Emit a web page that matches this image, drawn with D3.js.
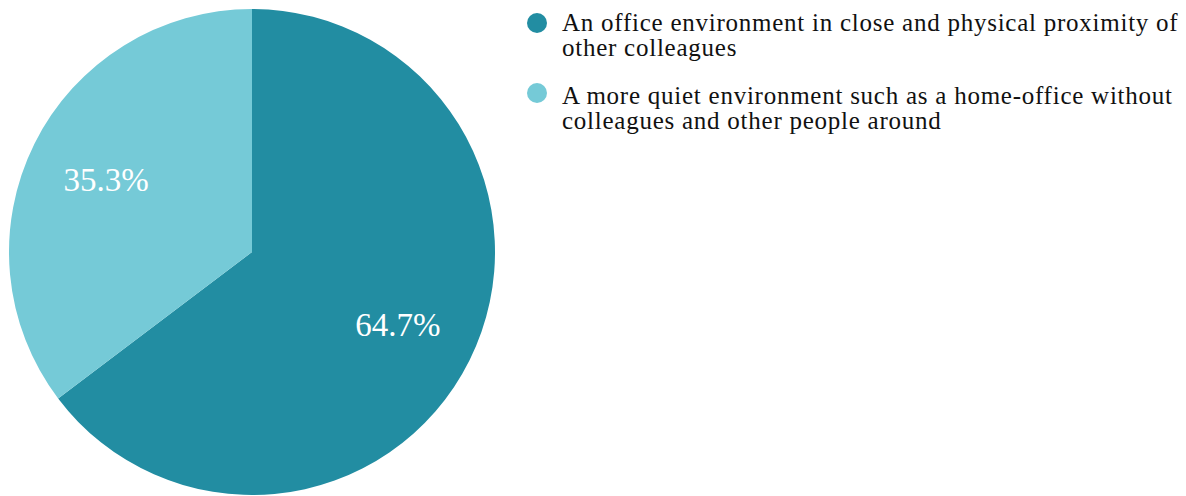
<!DOCTYPE html>
<html><head><meta charset="utf-8">
<script src="https://d3js.org/d3.v7.min.js"></script>
<style>
@font-face{font-family:"RefSerif";src:local("Liberation Serif"),local("LiberationSerif"),local("Tinos"),local("FreeSerif");}
body{margin:0;background:#fff}
svg text{font-family:"RefSerif"}
</style>
</head><body>
<svg id="c" width="1186" height="496"></svg>
<script>
const categories = ["An office environment in close and physical proximity of other colleagues",
                    "A more quiet environment such as a home-office without colleagues and other people around"];
const legendLines = [["An office environment in close and physical proximity of", "other colleagues"],
                     ["A more quiet environment such as a home-office without", "colleagues and other people around"]];
const values = [64.7, 35.3];
const colors = ["#228da2", "#75cad7"];

const svg = d3.select("#c");
const cx = 252, cy = 252, r = 243;
const pie = d3.pie().sort(null).value(d => d)(values);
const arc = d3.arc().innerRadius(0).outerRadius(r);
const labelArc = d3.arc().innerRadius(163).outerRadius(163);
svg.append("g").attr("transform", `translate(${cx},${cy})`)
  .selectAll("path").data(pie).join("path").attr("d", arc).attr("fill", (d,i) => colors[i]);

pie.forEach(d => {
  const [lx, ly] = labelArc.centroid(d);
  svg.append("text").attr("x", cx + lx).attr("y", cy + ly + 11.5).attr("font-size", 33)
    .style("font-family", '"Tinos"')
    .attr("text-anchor", "middle").attr("fill", "#fff")
    .text(d.data.toFixed(1) + "%");
});

legendLines.forEach((lines, i) => {
  const y0 = 23 + i * 70;
  svg.append("circle").attr("cx", 537).attr("cy", y0).attr("r", 10).attr("fill", colors[i]);
  lines.forEach((l, j) => {
    svg.append("text").attr("x", 562).attr("y", y0 + 8 + i * 3 + j * 25).attr("font-size", 25)
      .style("font-family", '"Tinos"')
      .attr("letter-spacing", 0.75).attr("fill", "#111").text(l);
  });
});
</script>
</body></html>
